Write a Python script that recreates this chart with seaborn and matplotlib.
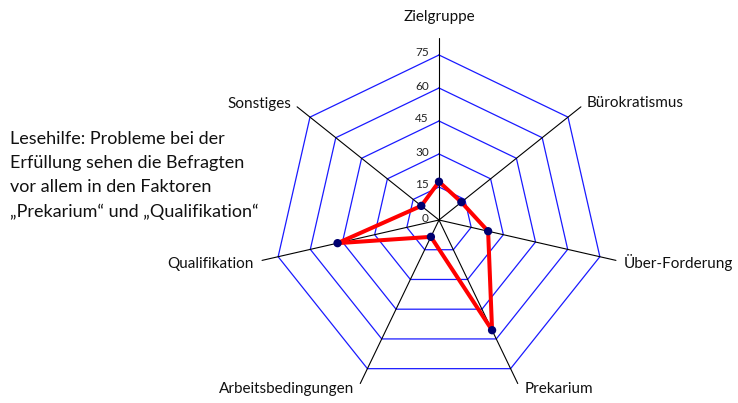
import numpy as np
import pandas as pd
import matplotlib
matplotlib.use("Agg")
import matplotlib.pyplot as plt
import seaborn as sns

categories = ["Zielgruppe", "Bürokratismus", "Über-Forderung", "Prekarium",
              "Arbeitsbedingungen", "Qualifikation", "Sonstiges"]
values = [17.4, 13, 22.9, 55.6, 8.5, 47.3, 10.3]
ring_levels = [15, 30, 45, 60, 75]
tick_labels = ["0", "15", "30", "45", "60", "75"]
tick_values = [0, 15, 30, 45, 60, 75]
note = ("Lesehilfe: Probleme bei der\nErfüllung sehen die Befragten\n"
        "vor allem in den Faktoren\n\u201ePrekarium\u201c und \u201eQualifikation\u201c")

sns.set_theme(style="white")
plt.rcParams['font.family'] = ['Lato', 'DejaVu Sans']

W, H = 738, 403
fig = plt.figure(figsize=(W / 100, H / 100), dpi=100)
# polar axes: centre at (439, 220) px, 2.2 px per unit, rmax 90
rmax = 90
rad_px = rmax * 2.2
cx, cy = 439, 220
ax = fig.add_axes([(cx - rad_px) / W, (H - cy - rad_px) / H, 2 * rad_px / W, 2 * rad_px / H],
                  projection="polar")
ax.set_theta_zero_location("N")
ax.set_theta_direction(-1)
ax.set_ylim(0, rmax)
ax.grid(False)
ax.spines["polar"].set_visible(False)
ax.set_xticks([])
ax.set_yticks([])
ax.patch.set_alpha(0)

n = len(categories)
theta = np.arange(n) * 2 * np.pi / n
theta_closed = np.append(theta, 2 * np.pi)

# heptagonal rings
for lv in ring_levels:
    ax.plot(theta_closed, [lv] * (n + 1), color="#1a1aff", lw=0.9, zorder=1)

# spokes
spoke_len = 82.5
for t in theta:
    ax.plot([t, t], [0, spoke_len], color="black", lw=0.8, zorder=2)

# tick labels
for v, lab in zip(tick_values, tick_labels):
    ax.annotate(lab, xy=(0, v), xytext=(-10, 2), textcoords="offset pixels",
                ha="right", va="center", fontsize=8.5, color="#222222",
                annotation_clip=False)

# category labels (offsets in pixels)
offsets = [(0, 22), (6, 4), (8, -2), (7, -5), (-6, -5), (-8, -4), (-6, 3)]
aligns = ["center", "left", "left", "left", "right", "right", "right"]
for t, lab, off, ha in zip(theta, categories, offsets, aligns):
    ax.annotate(lab, xy=(t, spoke_len), xytext=off, textcoords="offset pixels",
                ha=ha, va="center", fontsize=11, color="#111111",
                annotation_clip=False)

df = pd.DataFrame({"theta": theta_closed, "value": values + [values[0]]})
sns.lineplot(data=df, x="theta", y="value", sort=False, estimator=None,
             color="#ff0000", lw=2.9, ax=ax, zorder=3)
sns.scatterplot(data=df.iloc[:-1], x="theta", y="value", color="#000070",
                s=36, edgecolor="none", ax=ax, zorder=4)
ax.set_xlabel("")
ax.set_ylabel("")

fig.text(10 / W, 1 - 131 / H, note, ha="left", va="top", fontsize=13,
         linespacing=1.62, color="#111111")

fig.savefig("out.png", dpi=100)
